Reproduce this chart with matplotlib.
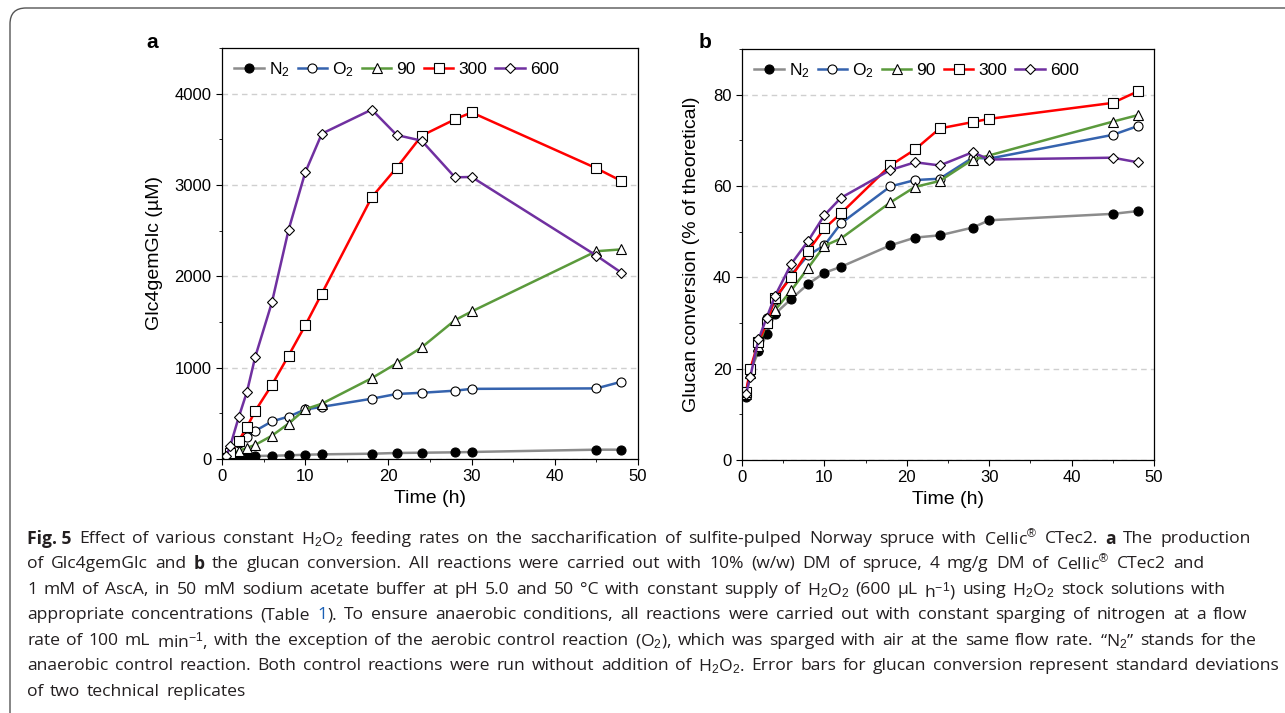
import numpy as np
import matplotlib
matplotlib.use("Agg")
import matplotlib.pyplot as plt
from matplotlib.patches import FancyBboxPatch
from matplotlib.transforms import IdentityTransform
from matplotlib.ticker import MultipleLocator

# data
time_h = [0.5, 1, 2, 3, 4, 6, 8, 10, 12, 18, 21, 24, 28, 30, 45, 48]
series_names = ["N$_2$", "O$_2$", "90", "300", "600"]

# panel a: Glc4gemGlc (uM)
glc_n2 = [10, 20, 25, 29, 33, 36, 40, 47, 51, 58, 66, 69, 73, 77, 102, 102]
glc_o2 = [22, 95, 175, 242, 308, 412, 464, 542, 571, 660, 712, 725, 748, 768, 773, 846]
glc_90 = [10, 40, 90, 122, 155, 255, 388, 545, 605, 885, 1048, 1222, 1520, 1615, 2275, 2295]
glc_300 = [15, 65, 200, 350, 527, 812, 1132, 1462, 1812, 2866, 3190, 3540, 3719, 3795, 3183, 3044]
glc_600 = [30, 146, 455, 736, 1120, 1715, 2508, 3137, 3562, 3826, 3547, 3485, 3084, 3088, 2227, 2040]

# panel b: glucan conversion (% of theoretical)
conv_n2 = [13.9, 19.3, 23.8, 27.5, 32.0, 35.3, 38.5, 41.0, 42.3, 47.0, 48.7, 49.2, 50.9, 52.5, 53.9, 54.5]
conv_o2 = [14.5, 19.5, 25.5, 31.0, 35.0, 40.6, 44.8, 47.0, 51.8, 59.9, 61.3, 61.6, 66.2, 66.0, 71.2, 73.1]
conv_90 = [14.5, 19.0, 25.0, 30.0, 32.8, 37.2, 42.0, 46.9, 48.5, 56.4, 59.8, 61.1, 65.8, 66.7, 74.1, 75.5]
conv_300 = [15.0, 19.9, 25.9, 30.0, 35.5, 40.1, 45.7, 50.7, 54.0, 64.5, 68.0, 72.6, 74.0, 74.7, 78.2, 80.7]
conv_600 = [14.5, 18.2, 26.4, 31.2, 35.9, 43.0, 47.9, 53.6, 57.4, 63.5, 65.2, 64.5, 67.4, 65.8, 66.2, 65.2]

# styles
line_colors = ["#8c8c8c", "#3563ae", "#5b9a3c", "#ff0000", "#7030a0"]
markers = ["o", "o", "^", "s", "D"]
face_colors = ["black", "white", "white", "white", "white"]
marker_sizes = [6.5, 6.5, 6.5, 6.5, 5.0]

# font settings
plt.rcParams["font.family"] = ["Liberation Sans", "DejaVu Sans"]
plt.rcParams["mathtext.fontset"] = "custom"
plt.rcParams["mathtext.rm"] = "Liberation Sans"
plt.rcParams["mathtext.it"] = "Liberation Sans:italic"
plt.rcParams["xtick.labelsize"] = 12
plt.rcParams["ytick.labelsize"] = 12
plt.rcParams["xtick.direction"] = "out"
plt.rcParams["ytick.direction"] = "out"
plt.rcParams["xtick.major.size"] = 4
plt.rcParams["ytick.major.size"] = 4
plt.rcParams["xtick.minor.size"] = 2.5
plt.rcParams["ytick.minor.size"] = 2.5
plt.rcParams["axes.linewidth"] = 0.9

fig = plt.figure(figsize=(12.85, 7.13), dpi=100)
W, H = 1285, 713

# outer rounded frame
frame = FancyBboxPatch((10, -30), 1320, 713 - 8 + 30, boxstyle="round,pad=0,rounding_size=16",
                       transform=IdentityTransform(), facecolor="none", edgecolor="#555555",
                       linewidth=1.0, zorder=0)
fig.patches.append(frame)

ax_a = fig.add_axes([222 / W, 1 - 459 / H, (638 - 222) / W, (459 - 48) / H])
ax_b = fig.add_axes([742 / W, 1 - 460 / H, (1154 - 742) / W, (460 - 49) / H])


def draw_panel(ax, data, ylim, ymajor, yminor, ylabel, lw):
    for vals, name, c, m, fc, ms in zip(data, series_names, line_colors, markers, face_colors, marker_sizes):
        ax.plot(time_h, vals, color=c, lw=lw, marker=m, markersize=ms,
                markerfacecolor=fc, markeredgecolor="black", markeredgewidth=0.8, label=name)
    ax.set_xlim(0, 50)
    ax.set_ylim(*ylim)
    ax.xaxis.set_major_locator(MultipleLocator(10))
    ax.xaxis.set_minor_locator(MultipleLocator(5))
    ax.yaxis.set_major_locator(MultipleLocator(ymajor))
    ax.yaxis.set_minor_locator(MultipleLocator(yminor))
    ax.yaxis.grid(True, which="major", color="#cfcfcf", linestyle=(0, (4, 3)), linewidth=1.0)
    ax.set_axisbelow(True)
    ax.set_xlabel("Time (h)", fontsize=14, labelpad=4)
    ax.set_ylabel(ylabel, fontsize=14)
    ax.legend(loc="upper left", ncol=5, frameon=False, fontsize=12.5, handlelength=1.7,
              handletextpad=0.3, columnspacing=0.45, borderaxespad=0.3, bbox_to_anchor=(0.0, 1.0))


draw_panel(ax_a, [glc_n2, glc_o2, glc_90, glc_300, glc_600], (0, 4500), 1000, 500,
           "Glc4gemGlc (\u00b5M)", 1.8)
draw_panel(ax_b, [conv_n2, conv_o2, conv_90, conv_300, conv_600], (0, 90), 20, 10,
           "Glucan conversion (% of theoretical)", 1.8)
ax_a.yaxis.set_label_coords(-0.142, 0.5)
ax_b.yaxis.set_label_coords(-0.102, 0.5)

fig.text(152 / W, 1 - 42 / H, "a", fontsize=15, fontweight="bold", ha="center", va="center")
fig.text(705 / W, 1 - 42 / H, "b", fontsize=15, fontweight="bold", ha="center", va="center")

# caption, word by word so bold words, the blue link and the line ends fit
cap_font = "Open Sans"
cap_size = 12.6
cap_color = "#231f20"
link_color = "#1a5fb4"
caption_lines = [
    [("Fig.\u00a05", "bold", cap_color), ("Effect of various constant H$_2$O$_2$ feeding rates on the saccharification of sulfite-pulped Norway spruce with Cellic$^{\u00ae}$ CTec2.", "normal", cap_color),
     ("a", "bold", cap_color), ("The production", "normal", cap_color)],
    [("of Glc4gemGlc and", "normal", cap_color), ("b", "bold", cap_color),
     ("the glucan conversion. All reactions were carried out with 10% (w/w) DM of spruce, 4 mg/g DM of Cellic$^{\u00ae}$ CTec2 and", "normal", cap_color)],
    [("1 mM of AscA, in 50 mM sodium acetate buffer at pH 5.0 and 50 \u00b0C with constant supply of H$_2$O$_2$ (600 \u00b5L h$^{-1}$) using H$_2$O$_2$ stock solutions with", "normal", cap_color)],
    [("appropriate concentrations (Table", "normal", cap_color), ("1", "normal", link_color),
     (").", "normal", cap_color, "glue"), ("To ensure anaerobic conditions, all reactions were carried out with constant sparging of nitrogen at a flow", "normal", cap_color)],
    [("rate of 100 mL min$^{-1}$, with the exception of the aerobic control reaction (O$_2$), which was sparged with air at the same flow rate. \u201cN$_2$\u201d stands for the", "normal", cap_color)],
    [("anaerobic control reaction. Both control reactions were run without addition of H$_2$O$_2$. Error bars for glucan conversion represent standard deviations", "normal", cap_color)],
    [("of two technical replicates", "normal", cap_color)],
]
line_y = [537, 562, 588, 613, 639, 664, 690]
line_end = [1251, 1204, 1226, 1247, 1257, 1279, 246]

renderer = fig.canvas.get_renderer()


def text_width(t):
    return t.get_window_extent(renderer).width


for runs, yy, x_end in zip(caption_lines, line_y, line_end):
    # split runs into words; "glue" runs stick to the word before
    words = []
    for run in runs:
        txt, weight, col = run[:3]
        glue = len(run) > 3
        for k, w in enumerate(txt.split(" ")):
            words.append([w.replace("\u00a0", " "), weight, col, glue and k == 0])
    objs = []
    for w, weight, col, glue in words:
        t = fig.text(0, 1 - yy / H, w, family=cap_font, fontsize=cap_size, fontweight=weight,
                     color=col, ha="left", va="center_baseline")
        objs.append((t, text_width(t), glue))
    n_gaps = sum(1 for o in objs[1:] if not o[2])
    natural = sum(o[1] for o in objs)
    gap = (x_end - 27 - natural) / max(n_gaps, 1)
    x = 27
    for i, (t, wdt, glue) in enumerate(objs):
        if i > 0 and not glue:
            x += gap
        t.set_x(x / W)
        x += wdt

fig.savefig("out.png", dpi=100)
